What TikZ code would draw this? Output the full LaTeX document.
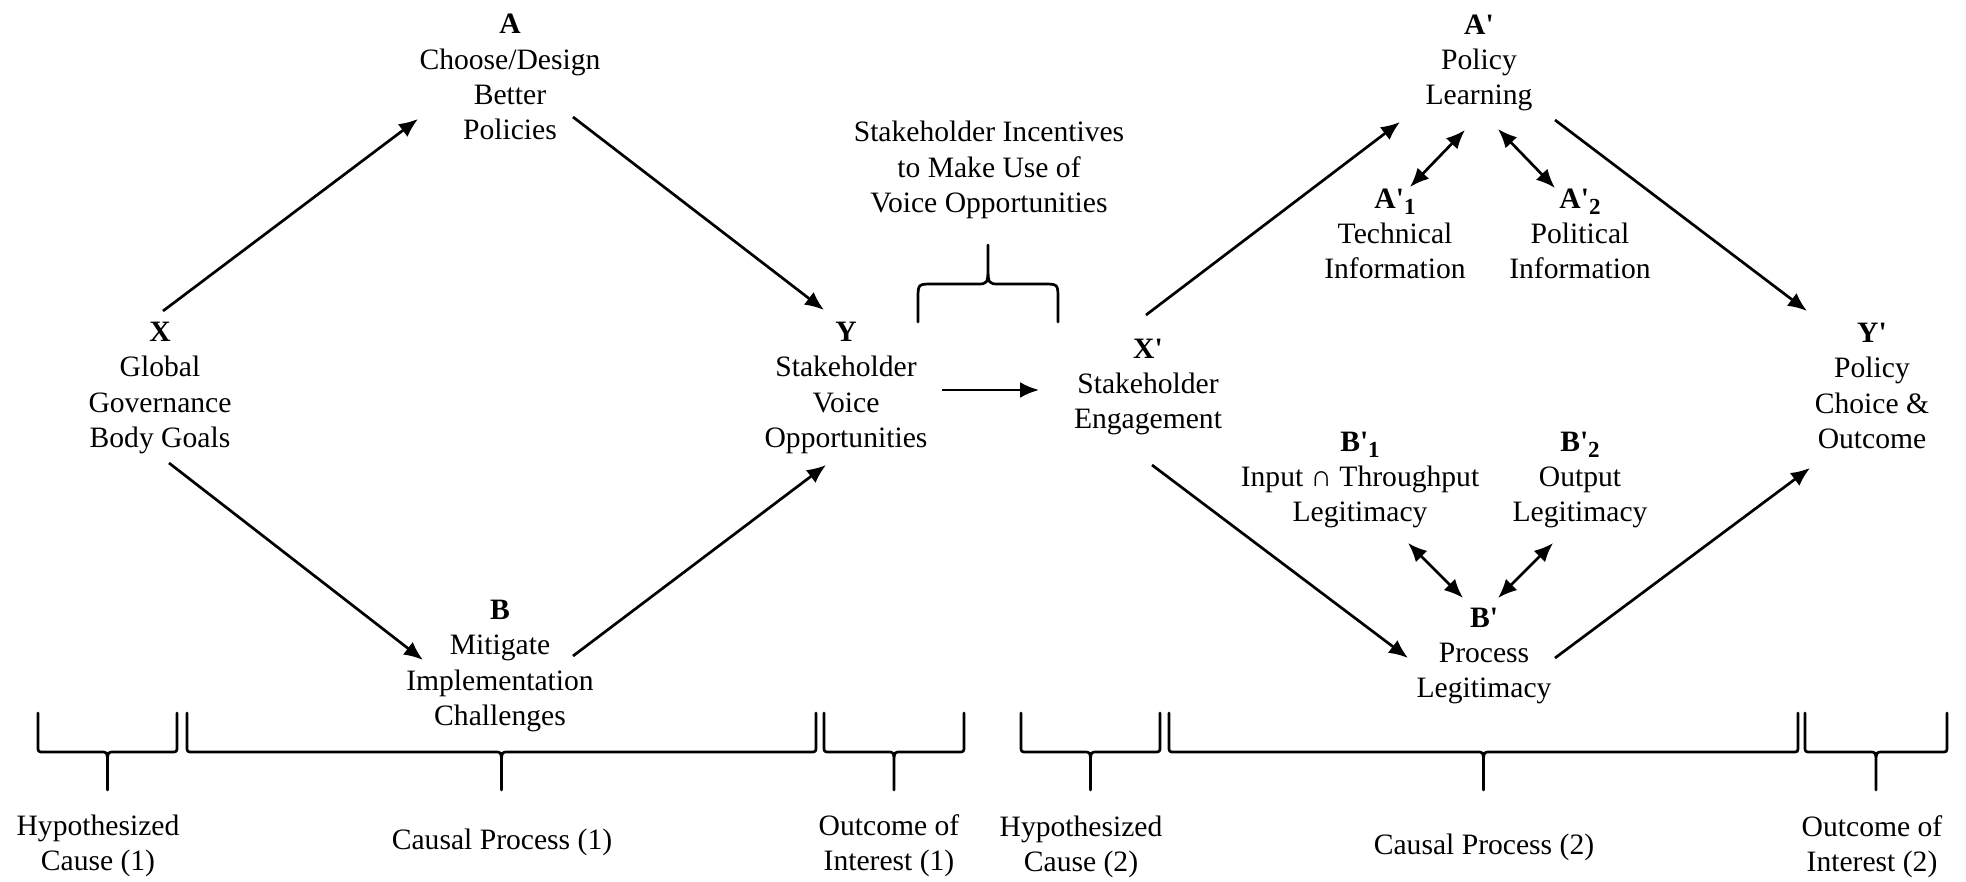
\documentclass[tikz,border=0pt]{standalone}
\usepackage{fontspec}
\setmainfont{Liberation Serif}[Ligatures=TeXOff]
\usetikzlibrary{arrows.meta,calc}

% lowered bold index after a primed letter
\newcommand\sbs[1]{\raisebox{-0.45ex}{\fontsize{11.5}{11.5}\selectfont\bfseries #1}}

% curly brace: left x, right x, y of the ends, y of the bar, y of the tip,
% corner radius at the ends, half width of the central cusp
\newcommand\brc[7]{%
  \pgfmathsetmacro\se{(#3-#4)/abs(#3-#4)}%
  \pgfmathsetmacro\st{(#5-#4)/abs(#5-#4)}%
  \pgfmathsetmacro\cx{(#1+#2)/2}%
  \draw[brace] (#1,#3) -- (#1,{#4+\se*#6})
    .. controls (#1,#4) and (#1,#4) .. ({#1+#6},#4)
    -- ({\cx-#7},#4)
    .. controls ({\cx-1},#4) and (\cx,#4) .. (\cx,{#4+\st*1.5*#7})
    -- (\cx,#5)
    (\cx,{#4+\st*1.5*#7})
    .. controls (\cx,#4) and ({\cx+1},#4) .. ({\cx+#7},#4)
    -- ({#2-#6},#4)
    .. controls (#2,#4) and (#2,#4) .. (#2,{#4+\se*#6}) -- (#2,#3);}

\begin{document}
\begin{tikzpicture}[x=0.5pt,y=-0.5pt,
  lbl/.style={align=center,inner sep=0pt,font=\fontsize{14.8}{17.6}\selectfont},
  tip/.style={Latex[length=9.5pt,width=8pt]},
  arr/.style={line width=1.35pt,-{Latex[length=9.5pt,width=8pt]}},
  darr/.style={line width=1.35pt,{Latex[length=9.5pt,width=8pt]}-{Latex[length=9.5pt,width=8pt]}},
  brace/.style={line width=1.35pt,line cap=round,line join=round}]
\useasboundingbox (0,0) rectangle (1966,882);

% ---- first causal chain ----
\node[lbl] (X) at (160,388) {\textbf{X}\\Global\\Governance\\Body Goals};
\node[lbl] (A) at (510,77) {\textbf{A}\\Choose/Design\\Better\\Policies};
\node[lbl] (B) at (500,666) {\textbf{B}\\Mitigate\\Implementation\\Challenges};
\node[lbl] (Y) at (846,388) {\textbf{Y}\\Stakeholder\\Voice\\Opportunities};

\draw[arr] ($(X)+(3,-77)$) -- ($(A)+(-92,42)$);
\draw[arr] ($(A)+(63,40)$) -- ($(Y)+(-22,-78)$);
\draw[arr] ($(X)+(9,75)$) -- ($(B)+(-77,-6)$);
\draw[arr] ($(B)+(73,-10)$) -- ($(Y)+(-20,77)$);

% ---- link between the chains ----
\node[lbl] (SI) at (989,170) {Stakeholder Incentives\\to Make Use of\\Voice Opportunities};
\brc{918}{1058}{322}{284}{245}{15}{11}

% ---- second causal chain ----
\node[lbl] (Xp) at (1148,387) {\textbf{X'}\\Stakeholder\\Engagement};
\node[lbl] (Ap) at (1479,63) {\textbf{A'}\\Policy\\Learning};
\node[lbl] (Ap1) at (1395,234) {\textbf{A'}\sbs{1}\\Technical\\Information};
\node[lbl] (Ap2) at (1580,234) {\textbf{A'}\sbs{2}\\Political\\Information};
\node[lbl] (Bp1) at (1360,480) {\textbf{B'}\sbs{1}\\Input \char"2229{} Throughput\\Legitimacy};
\node[lbl] (Bp2) at (1580,480) {\textbf{B'}\sbs{2}\\Output\\Legitimacy};
\node[lbl] (Bp) at (1484,656) {\textbf{B'}\\Process\\Legitimacy};
\node[lbl] (Yp) at (1872,386) {\textbf{Y'}\\Policy\\Choice \&\\Outcome};

\draw[arr] ($(Y)+(96,2)$) -- ($(Xp)+(-109,3)$);
\draw[arr] ($(Xp)+(-2,-72)$) -- ($(Ap)+(-79,59)$);
\draw[arr] ($(Ap)+(76,57)$) -- ($(Yp)+(-65,-75)$);
\draw[arr] ($(Xp)+(4,78)$) -- ($(Bp)+(-76,2)$);
\draw[arr] ($(Bp)+(71,2)$) -- ($(Yp)+(-62,82)$);
\draw[darr] ($(Ap)+(-14,67)$) -- ($(Ap1)+(15,-47)$);
\draw[darr] ($(Ap)+(19,66)$) -- ($(Ap2)+(-25,-46)$);
\draw[darr] ($(Bp1)+(48,63)$) -- ($(Bp)+(-21,-58)$);
\draw[darr] ($(Bp2)+(-27,63)$) -- ($(Bp)+(14,-58)$);

% ---- bottom braces and their captions ----
\brc{38}{177}{713}{752}{790}{6}{6}
\brc{187}{816}{713}{752}{790}{6}{6}
\brc{824}{964}{713}{752}{790}{6}{6}
\brc{1021}{1160}{713}{752}{790}{6}{6}
\brc{1169}{1798}{713}{752}{790}{6}{6}
\brc{1805}{1947}{713}{752}{790}{6}{6}

\node[lbl] (H1) at (98,846) {Hypothesized\\Cause (1)};
\node[lbl] (C1) at (502,842) {Causal Process (1)};
\node[lbl] (O1) at (889,846) {Outcome of\\Interest (1)};
\node[lbl] (H2) at (1081,847) {Hypothesized\\Cause (2)};
\node[lbl] (C2) at (1484,847) {Causal Process (2)};
\node[lbl] (O2) at (1872,847) {Outcome of\\Interest (2)};
\end{tikzpicture}
\end{document}
